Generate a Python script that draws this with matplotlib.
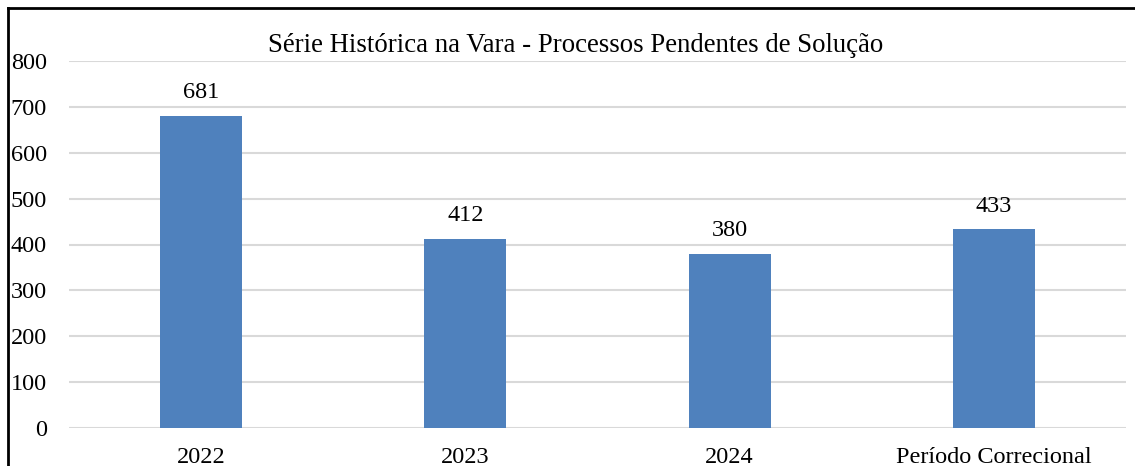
import numpy as np
import matplotlib
matplotlib.use("Agg")
import matplotlib.pyplot as plt
from matplotlib.lines import Line2D

# data
categories = ["2022", "2023", "2024", "Período Correcional"]
pendentes = [681, 412, 380, 433]
yticks = [0, 100, 200, 300, 400, 500, 600, 700, 800]

plt.rcParams["font.family"] = ["Liberation Serif", "DejaVu Serif"]

W, H = 1135, 466
fig = plt.figure(figsize=(W / 100, H / 100), dpi=100)
ax = fig.add_axes([69 / W, 1 - 428 / H, (1126 - 69) / W, (428 - 61) / H])

x = np.arange(len(categories))
ax.bar(x, pendentes, width=0.31, color="#4F81BD", zorder=3)
for xi, v in zip(x, pendentes):
    ax.annotate(str(v), (xi, v), xytext=(0, 9), textcoords="offset points",
                ha="center", va="bottom", fontsize=17.5)

ax.set_xlim(-0.5, len(categories) - 0.5)
ax.set_ylim(0, 800)
ax.set_yticks(yticks)
ax.set_xticks(x)
ax.set_xticklabels(categories)
ax.tick_params(axis="y", length=0, pad=16, labelsize=17.5)
ax.tick_params(axis="x", length=0, pad=14, labelsize=17.5)
ax.grid(axis="y", color="#D9D9D9", linewidth=1.5, zorder=0)
for s in ax.spines.values():
    s.set_visible(False)

fig.text(576 / W, 1 - 45 / H,
         "Série Histórica na Vara - Processos Pendentes de Solução",
         ha="center", va="center", fontsize=19.3)

# outer frame (only top and left edges are inside the crop)
fig.add_artist(Line2D([8 / W, 8 / W], [0, 1 - 8 / H], color="black", lw=2,
                      transform=fig.transFigure))
fig.add_artist(Line2D([8 / W, 1], [1 - 8 / H, 1 - 8 / H], color="black", lw=2,
                      transform=fig.transFigure))

fig.savefig("out.png", dpi=100)
